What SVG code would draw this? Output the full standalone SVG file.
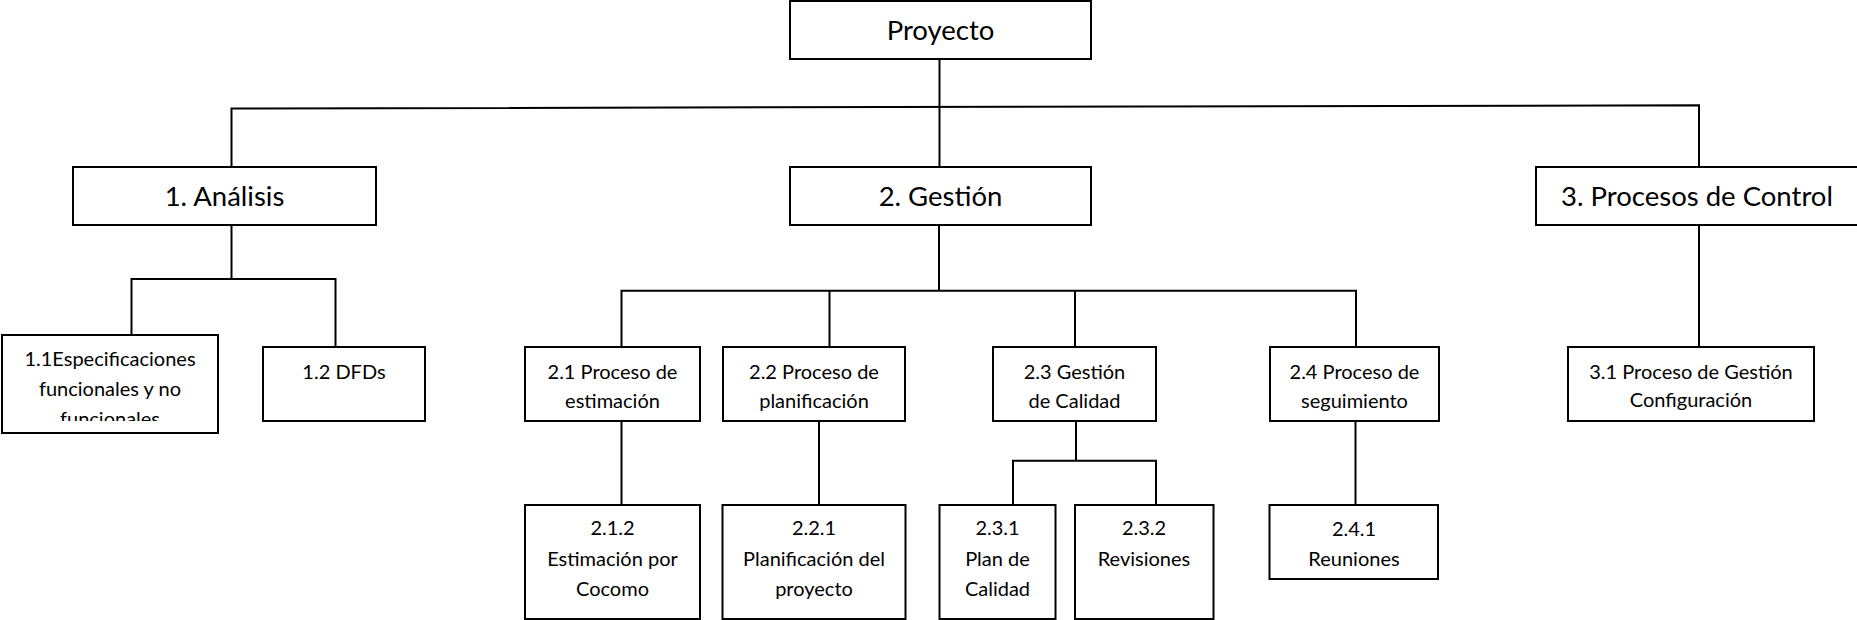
<svg xmlns="http://www.w3.org/2000/svg" width="1857" height="620" viewBox="0 0 1857 620">
<defs>
<style>
.box{fill:#fff;stroke:#000;stroke-width:2}
.con{fill:none;stroke:#000;stroke-width:2}
.big{font-family:Lato,"Open Sans","Liberation Sans",sans-serif;font-size:27.5px;fill:#000;text-anchor:middle}
.sm{font-family:Lato,"Open Sans","Liberation Sans",sans-serif;font-size:20px;fill:#000;text-anchor:middle}
</style>
<clipPath id="clip11"><rect x="2" y="335" width="216" height="86"/></clipPath>
</defs>
<rect width="1857" height="620" fill="#fff"/>
<g id="connectors">
<path class="con" d="M939.5 59 V107"/>
<path class="con" d="M231.5 167 V108.5 L1699 105.3 V167"/>
<path class="con" d="M939.5 107 V167"/>
<path class="con" d="M231.5 225 V279"/>
<path class="con" d="M131.5 335 V279 H335.5 V347"/>
<path class="con" d="M939 225 V290.7"/>
<path class="con" d="M621.5 347 V290.7 H1356 V347"/>
<path class="con" d="M829.5 290.7 V347"/>
<path class="con" d="M1075 290.7 V347"/>
<path class="con" d="M1699 225 V347"/>
<path class="con" d="M621.5 421 V505"/>
<path class="con" d="M819 421 V505"/>
<path class="con" d="M1076 421 V460.7"/>
<path class="con" d="M1013 505 V460.7 H1156 V505"/>
<path class="con" d="M1355.5 421 V505"/>
</g>
<g id="n-proyecto"><rect class="box" x="790" y="1" width="301" height="58"/><text class="big" x="940.5" y="40">Proyecto</text></g>
<g id="n-1"><rect class="box" x="73" y="167" width="303" height="58"/><text class="big" x="224.5" y="205.5">1. Análisis</text></g>
<g id="n-2"><rect class="box" x="790" y="167" width="301" height="58"/><text class="big" x="940.5" y="205.5">2. Gestión</text></g>
<g id="n-3"><rect class="box" x="1536" y="167" width="330" height="58"/><text class="big" x="1697" y="205.5">3. Procesos de Control</text></g>
<g id="n-1-1"><rect class="box" x="2" y="335" width="216" height="98"/><g clip-path="url(#clip11)"><text class="sm" x="110" y="366">1.1Especificaciones</text><text class="sm" x="110" y="396">funcionales y no</text><text class="sm" x="110" y="426">funcionales</text></g></g>
<g id="n-1-2"><rect class="box" x="263" y="347" width="162" height="74"/><text class="sm" x="344" y="378.5">1.2 DFDs</text></g>
<g id="n-2-1"><rect class="box" x="525" y="347" width="175" height="74"/><text class="sm" x="612.5" y="379">2.1 Proceso de</text><text class="sm" x="612.5" y="408">estimación</text></g>
<g id="n-2-2"><rect class="box" x="723" y="347" width="182" height="74"/><text class="sm" x="814" y="379">2.2 Proceso de</text><text class="sm" x="814" y="408">planificación</text></g>
<g id="n-2-3"><rect class="box" x="993" y="347" width="163" height="74"/><text class="sm" x="1074.5" y="379">2.3 Gestión</text><text class="sm" x="1074.5" y="408">de Calidad</text></g>
<g id="n-2-4"><rect class="box" x="1270" y="347" width="169" height="74"/><text class="sm" x="1354.5" y="379">2.4 Proceso de</text><text class="sm" x="1354.5" y="408">seguimiento</text></g>
<g id="n-3-1"><rect class="box" x="1568" y="347" width="246" height="74"/><text class="sm" x="1691" y="378.5">3.1 Proceso de Gestión</text><text class="sm" x="1691" y="407">Configuración</text></g>
<g id="n-2-1-2"><rect class="box" x="525" y="505" width="175" height="114"/><text class="sm" x="612.5" y="535">2.1.2</text><text class="sm" x="612.5" y="565.5">Estimación por</text><text class="sm" x="612.5" y="595.5">Cocomo</text></g>
<g id="n-2-2-1"><rect class="box" x="722.5" y="505" width="183" height="114"/><text class="sm" x="814" y="535">2.2.1</text><text class="sm" x="814" y="565.5">Planificación del</text><text class="sm" x="814" y="595.5">proyecto</text></g>
<g id="n-2-3-1"><rect class="box" x="939.5" y="505" width="116" height="114"/><text class="sm" x="997.5" y="535">2.3.1</text><text class="sm" x="997.5" y="565.5">Plan de</text><text class="sm" x="997.5" y="595.5">Calidad</text></g>
<g id="n-2-3-2"><rect class="box" x="1075" y="505" width="138.5" height="114"/><text class="sm" x="1144" y="535">2.3.2</text><text class="sm" x="1144" y="565.5">Revisiones</text></g>
<g id="n-2-4-1"><rect class="box" x="1269.5" y="505" width="168.5" height="74"/><text class="sm" x="1354" y="536">2.4.1</text><text class="sm" x="1354" y="566">Reuniones</text></g>
</svg>
